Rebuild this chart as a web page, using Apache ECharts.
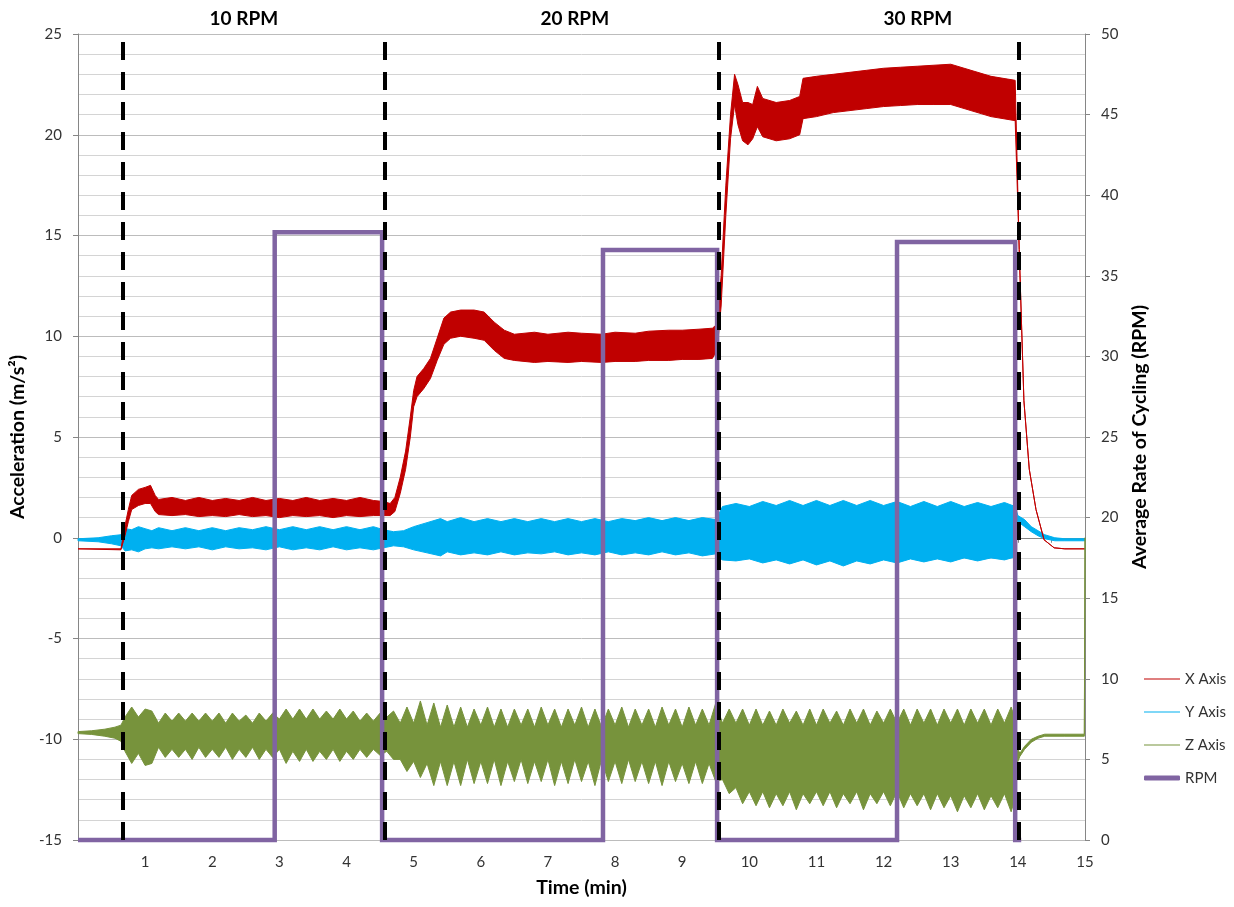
<!DOCTYPE html>
<html><head><meta charset="utf-8">
<script src="https://cdn.jsdelivr.net/npm/echarts@6/dist/echarts.min.js"></script>
<style>html,body{margin:0;padding:0;background:#fff}#c{width:1234px;height:907px}</style>
</head><body><div id="c"></div>
<script>
// ---- data (time in min, [t, upper, lower] envelopes in m/s²) ----
const xAxisBand = [[0,-0.55,-0.55],[0.64,-0.55,-0.6],[0.7,0.6,0.1],[0.75,1.4,0.8],[0.8,2.1,1.4],[0.9,2.4,1.6],[1.0,2.5,1.7],[1.08,2.6,1.7],[1.15,2.1,1.3],[1.2,1.9,1.15],[1.4,2.0,1.1],[1.6,1.85,1.15],[1.8,2.0,1.05],[2.0,1.85,1.1],[2.2,1.95,1.05],[2.4,1.85,1.15],[2.6,2.0,1.05],[2.8,1.85,1.1],[3.0,1.95,1.0],[3.2,1.85,1.1],[3.4,2.0,1.05],[3.6,1.85,1.1],[3.8,1.95,1.0],[4.0,1.85,1.1],[4.2,2.0,1.05],[4.4,1.85,1.1],[4.55,1.8,1.1],[4.65,1.7,1.1],[4.72,2.0,1.3],[4.8,3.0,2.2],[4.88,4.3,3.4],[4.95,6.0,5.0],[5.0,7.3,6.5],[5.05,8.0,7.0],[5.15,8.4,7.4],[5.25,8.9,7.9],[5.35,9.9,8.8],[5.45,10.9,9.6],[5.55,11.2,9.9],[5.7,11.3,10.0],[5.9,11.3,9.9],[6.05,11.2,9.8],[6.2,10.7,9.3],[6.35,10.3,8.9],[6.5,10.1,8.8],[6.8,10.2,8.7],[7.0,10.1,8.75],[7.3,10.2,8.7],[7.5,10.15,8.75],[7.8,10.1,8.7],[8.0,10.2,8.75],[8.3,10.15,8.75],[8.5,10.25,8.8],[8.8,10.3,8.8],[9.0,10.3,8.85],[9.25,10.35,8.85],[9.45,10.4,8.9],[9.52,10.6,9.3],[9.58,13.0,11.5],[9.65,17.5,16.0],[9.72,21.0,19.8],[9.78,23.0,21.5],[9.83,22.5,20.5],[9.9,21.6,19.7],[9.98,21.6,19.5],[10.05,21.5,19.8],[10.12,22.4,20.4],[10.2,21.8,19.9],[10.4,21.6,19.7],[10.6,21.7,19.8],[10.75,21.9,20.0],[10.8,22.8,20.8],[11.0,22.9,20.9],[11.25,23.0,21.1],[11.5,23.1,21.2],[11.75,23.2,21.3],[12.0,23.3,21.4],[12.25,23.35,21.45],[12.5,23.4,21.5],[12.75,23.45,21.5],[13.0,23.5,21.5],[13.3,23.2,21.2],[13.6,22.9,20.9],[13.96,22.7,20.7],[14.02,14.3,14.3],[14.09,6.8,6.8],[14.17,3.4,3.4],[14.27,1.4,1.4],[14.39,-0.1,-0.1],[14.54,-0.5,-0.5],[14.7,-0.55,-0.55],[15,-0.55,-0.55]];

const yAxisBand = [[0,-0.05,-0.15],[0.3,0.0,-0.2],[0.5,0.1,-0.3],[0.64,0.15,-0.4],[0.7,0.45,-0.65],[0.8,0.4,-0.6],[0.9,0.55,-0.7],[1.0,0.45,-0.55],[1.1,0.35,-0.5],[1.2,0.5,-0.55],[1.4,0.35,-0.45],[1.6,0.5,-0.55],[1.8,0.35,-0.45],[2.0,0.5,-0.6],[2.2,0.35,-0.45],[2.4,0.5,-0.55],[2.6,0.4,-0.5],[2.8,0.55,-0.6],[3.0,0.4,-0.45],[3.2,0.55,-0.6],[3.4,0.4,-0.5],[3.6,0.55,-0.6],[3.8,0.4,-0.45],[4.0,0.55,-0.6],[4.2,0.4,-0.5],[4.4,0.55,-0.6],[4.55,0.4,-0.5],[4.7,0.3,-0.4],[4.85,0.35,-0.45],[5.0,0.55,-0.6],[5.2,0.75,-0.75],[5.4,0.95,-0.9],[5.5,0.8,-0.7],[5.7,1.0,-0.85],[5.9,0.8,-0.75],[6.1,0.95,-0.85],[6.3,0.8,-0.7],[6.5,0.95,-0.85],[6.7,0.8,-0.75],[6.9,0.95,-0.8],[7.1,0.8,-0.7],[7.3,0.95,-0.85],[7.5,0.8,-0.75],[7.7,0.95,-0.85],[7.9,0.8,-0.7],[8.1,0.95,-0.85],[8.3,0.85,-0.75],[8.5,1.0,-0.85],[8.7,0.85,-0.7],[8.9,1.0,-0.85],[9.1,0.85,-0.75],[9.3,1.0,-0.9],[9.5,0.9,-0.8],[9.55,1.2,-1.0],[9.6,1.55,-1.1],[9.8,1.7,-1.15],[10.0,1.55,-1.05],[10.2,1.8,-1.25],[10.4,1.6,-1.1],[10.6,1.85,-1.3],[10.8,1.6,-1.1],[11.0,1.85,-1.35],[11.2,1.6,-1.15],[11.4,1.85,-1.4],[11.6,1.6,-1.15],[11.8,1.85,-1.3],[12.0,1.6,-1.1],[12.2,1.8,-1.25],[12.4,1.55,-1.05],[12.6,1.8,-1.2],[12.8,1.55,-1.05],[13.0,1.8,-1.2],[13.2,1.55,-1.0],[13.4,1.75,-1.15],[13.6,1.55,-1.0],[13.8,1.75,-1.1],[13.96,1.55,-0.95],[14.0,1.1,0.8],[14.1,0.9,0.55],[14.2,0.55,0.3],[14.3,0.35,0.1],[14.4,0.15,-0.05],[14.55,0.0,-0.15],[14.7,-0.05,-0.15],[15,-0.05,-0.15]];

const zAxisBand = [[0,-9.62,-9.72],[0.2,-9.58,-9.76],[0.4,-9.5,-9.85],[0.55,-9.4,-9.95],[0.64,-9.3,-10.1],[0.7,-8.9,-10.6],[0.8,-8.4,-11.2],[0.9,-8.9,-10.7],[1.0,-8.5,-11.3],[1.1,-8.6,-11.2],[1.2,-9.2,-10.4],[1.3,-8.7,-10.9],[1.4,-9.1,-10.5],[1.5,-8.7,-10.9],[1.6,-9.1,-10.5],[1.7,-8.7,-11.0],[1.8,-9.1,-10.4],[1.9,-8.7,-10.9],[2.0,-9.1,-10.5],[2.1,-8.7,-10.9],[2.2,-9.2,-10.4],[2.3,-8.7,-11.0],[2.4,-9.1,-10.5],[2.5,-8.8,-10.9],[2.6,-9.2,-10.4],[2.7,-8.7,-11.0],[2.8,-9.1,-10.5],[2.9,-8.7,-10.9],[3.0,-9.0,-10.5],[3.1,-8.5,-11.2],[3.2,-9.0,-10.6],[3.3,-8.5,-11.1],[3.4,-9.0,-10.5],[3.5,-8.5,-11.1],[3.6,-9.0,-10.6],[3.7,-8.6,-11.0],[3.8,-9.0,-10.5],[3.9,-8.5,-11.1],[4.0,-9.0,-10.6],[4.1,-8.6,-11.0],[4.2,-9.1,-10.5],[4.3,-8.7,-10.9],[4.4,-9.1,-10.5],[4.5,-8.7,-10.8],[4.6,-8.9,-10.6],[4.7,-8.6,-11.0],[4.8,-9.2,-11.0],[4.9,-8.4,-11.6],[5.0,-9.2,-11.1],[5.1,-8.1,-11.9],[5.2,-9.3,-11.2],[5.3,-8.2,-12.3],[5.4,-9.4,-11.1],[5.5,-8.3,-12.3],[5.6,-9.4,-11.1],[5.7,-8.4,-12.3],[5.8,-9.4,-11.0],[5.9,-8.5,-12.2],[6.0,-9.3,-11.1],[6.1,-8.4,-12.2],[6.2,-9.4,-11.0],[6.3,-8.5,-12.3],[6.4,-9.4,-11.1],[6.5,-8.5,-12.1],[6.6,-9.3,-11.0],[6.7,-8.5,-12.2],[6.8,-9.4,-11.1],[6.9,-8.4,-12.1],[7.0,-9.3,-11.0],[7.1,-8.5,-12.3],[7.2,-9.4,-11.1],[7.3,-8.5,-12.2],[7.4,-9.3,-11.0],[7.5,-8.4,-12.1],[7.6,-9.4,-11.1],[7.7,-8.5,-12.3],[7.8,-9.4,-11.0],[7.9,-8.5,-12.1],[8.0,-9.3,-11.1],[8.1,-8.4,-12.2],[8.2,-9.4,-11.0],[8.3,-8.5,-12.1],[8.4,-9.3,-11.1],[8.5,-8.5,-12.2],[8.6,-9.4,-11.1],[8.7,-8.4,-12.3],[8.8,-9.3,-11.1],[8.9,-8.5,-12.1],[9.0,-9.4,-11.2],[9.1,-8.4,-12.2],[9.2,-9.3,-11.1],[9.3,-8.5,-12.2],[9.4,-9.3,-11.2],[9.5,-8.2,-12.1],[9.6,-9.2,-12.0],[9.7,-8.5,-12.7],[9.8,-9.2,-12.4],[9.9,-8.5,-13.2],[10.0,-9.3,-12.6],[10.1,-8.5,-13.3],[10.2,-9.3,-12.6],[10.3,-8.6,-13.4],[10.4,-9.3,-12.7],[10.5,-8.5,-13.3],[10.6,-9.2,-12.6],[10.7,-8.6,-13.5],[10.8,-9.3,-12.7],[10.9,-8.5,-13.2],[11.0,-9.3,-12.6],[11.1,-8.5,-13.3],[11.2,-9.2,-12.6],[11.3,-8.6,-13.4],[11.4,-9.3,-12.7],[11.5,-8.5,-13.2],[11.6,-9.2,-12.6],[11.7,-8.5,-13.5],[11.8,-9.3,-12.7],[11.9,-8.6,-13.2],[12.0,-9.2,-12.6],[12.1,-8.5,-13.3],[12.2,-9.2,-12.6],[12.3,-8.5,-13.4],[12.4,-9.3,-12.7],[12.5,-8.5,-13.3],[12.6,-9.2,-12.7],[12.7,-8.5,-13.5],[12.8,-9.3,-12.7],[12.9,-8.5,-13.4],[13.0,-9.2,-12.8],[13.1,-8.5,-13.6],[13.2,-9.3,-12.8],[13.3,-8.5,-13.4],[13.4,-9.2,-12.7],[13.5,-8.5,-13.5],[13.6,-9.3,-12.8],[13.7,-8.5,-13.4],[13.8,-9.2,-12.7],[13.9,-8.4,-13.6],[13.96,-9.0,-12.9],[14.0,-10.5,-11.1],[14.03,-10.7,-10.85],[14.1,-10.35,-10.5],[14.2,-10.0,-10.15],[14.3,-9.85,-9.95],[14.4,-9.75,-9.85],[14.7,-9.75,-9.85],[14.99,-9.75,-9.85],[15,0,0]];

// RPM (right axis) as [time, rpm]
const rpmTimes  = [0, 2.93, 2.93, 4.53, 4.53, 7.82, 7.82, 9.52, 9.52, 12.2, 12.2, 13.96, 13.96, 14.05];
const rpmValues = [0, 0, 37.7, 37.7, 0, 0, 36.6, 36.6, 0, 0, 37.1, 37.1, 0, 0];

// phase boundaries (dashed lines) and phase labels
const phaseBoundaries = [0.655, 4.57, 9.55, 14.02];
const phaseLabels = ['10 RPM', '20 RPM', '30 RPM'];
const phaseLabelTimes = [2.47, 7.4, 12.51];

const seriesNames = ['X Axis', 'Y Axis', 'Z Axis', 'RPM'];
const seriesColors = ['#C00000', '#00B0F0', '#77933C', '#8064A2'];

const FONT = 'Lato, "Liberation Sans", sans-serif';

// a filled envelope band drawn through the cartesian scales (upper edge forward, lower edge back)
function band(name, rows, color, z) {
  return {
    name: name, type: 'custom', coordinateSystem: 'cartesian2d', z: z, silent: true,
    itemStyle: { color: color },
    encode: { x: 0, y: [1, 2] },
    data: rows,
    renderItem: function (params, api) {
      if (params.dataIndexInside !== 0) return null;
      const n = params.dataInsideLength;
      const pts = [];
      for (let i = 0; i < n; i++) pts.push(api.coord([api.value(0, i), api.value(1, i)]));
      for (let i = n - 1; i >= 0; i--) pts.push(api.coord([api.value(0, i), api.value(2, i)]));
      return { type: 'polygon', shape: { points: pts },
               style: { fill: color, stroke: color, lineWidth: 1, lineJoin: 'round' } };
    }
  };
}

const chart = echarts.init(document.getElementById('c'), null, { renderer: 'canvas' });
const axisGray = '#868686';
const labelStyle = { fontFamily: FONT, fontSize: 15, color: '#333' };
const titleStyle = { fontFamily: FONT, fontSize: 19.5, fontWeight: 'bold', color: '#000' };

const option = {
  animation: false,
  backgroundColor: '#fff',
  textStyle: { fontFamily: FONT },
  grid: { left: 78, right: 149, top: 34, bottom: 67, containLabel: false },
  xAxis: {
    type: 'value', min: 0, max: 15, interval: 1,
    name: 'Time (min)', nameLocation: 'middle', nameGap: 38,
    nameTextStyle: titleStyle,
    axisLine: { show: true, lineStyle: { color: axisGray, width: 1 } },
    axisTick: { show: true, length: 5, lineStyle: { color: axisGray } },
    minorTick: { show: true, splitNumber: 2, length: 5, lineStyle: { color: axisGray } },
    axisLabel: Object.assign({ margin: 15, formatter: v => (v === 0 ? '' : String(v)) }, labelStyle),
    splitLine: { show: false }
  },
  yAxis: [
    { type: 'value', min: -15, max: 25, interval: 5, position: 'left',
      name: 'Acceleration (m/s²)', nameLocation: 'middle', nameGap: 50, nameRotate: 90,
      nameTextStyle: titleStyle,
      axisLine: { show: true, lineStyle: { color: axisGray } },
      axisTick: { show: true, length: 5, lineStyle: { color: axisGray } },
      minorTick: { show: false, splitNumber: 5 },
      axisLabel: Object.assign({ margin: 16 }, labelStyle),
      splitLine: { show: true, lineStyle: { color: '#bcbcbc', width: 1 } },
      minorSplitLine: { show: true, lineStyle: { color: '#d4d4d4', width: 1 } } },
    { type: 'value', min: 0, max: 50, interval: 5, position: 'right',
      name: 'Average Rate of Cycling (RPM)', nameLocation: 'middle', nameGap: 44, nameRotate: 90,
      nameTextStyle: titleStyle,
      axisLine: { show: true, lineStyle: { color: axisGray } },
      axisTick: { show: true, length: 5, lineStyle: { color: axisGray } },
      axisLabel: Object.assign({ margin: 16 }, labelStyle),
      splitLine: { show: false } }
  ],
  legend: [
    { orient: 'vertical', left: 1144, top: 670, padding: 0, itemGap: 15, itemWidth: 36, itemHeight: 1.2,
      selectedMode: false,
      textStyle: Object.assign({ lineHeight: 18 }, labelStyle),
      data: [0, 1, 2].map(i => ({ name: seriesNames[i], icon: 'rect', itemStyle: { color: seriesColors[i] } })) },
    { orient: 'vertical', left: 1144, top: 769, padding: 0, itemWidth: 36, itemHeight: 5,
      selectedMode: false,
      textStyle: Object.assign({ lineHeight: 18 }, labelStyle),
      data: [{ name: seriesNames[3], icon: 'roundRect', itemStyle: { color: seriesColors[3] } }] }
  ],
  series: [
    band(seriesNames[1], yAxisBand, seriesColors[1], 2),
    band(seriesNames[0], xAxisBand, seriesColors[0], 3),
    band(seriesNames[2], zAxisBand, seriesColors[2], 3),
    {
      name: seriesNames[3], type: 'line', yAxisIndex: 1, symbol: 'none', z: 5, clip: false,
      data: rpmTimes.map((t, i) => [t, rpmValues[i]]),
      lineStyle: { color: seriesColors[3], width: 4.5, join: 'miter' }, itemStyle: { color: seriesColors[3] },
      markLine: {
        silent: true, symbol: 'none', z: 6, animation: false,
        label: { show: false },
        lineStyle: { color: '#000', width: 4, type: [18, 12] },
        data: phaseBoundaries.map(t => ({ xAxis: t }))
      }
    }
  ]
};
chart.setOption(option);

chart.setOption({
  graphic: phaseLabels.map((txt, i) => ({
    type: 'text', silent: true,
    x: chart.convertToPixel({ xAxisIndex: 0 }, phaseLabelTimes[i]), y: 19,
    style: { text: txt, fontFamily: FONT, fontSize: 19, fontWeight: 'bold', fill: '#000',
             align: 'center', verticalAlign: 'middle' }
  }))
});
</script>
</body></html>
